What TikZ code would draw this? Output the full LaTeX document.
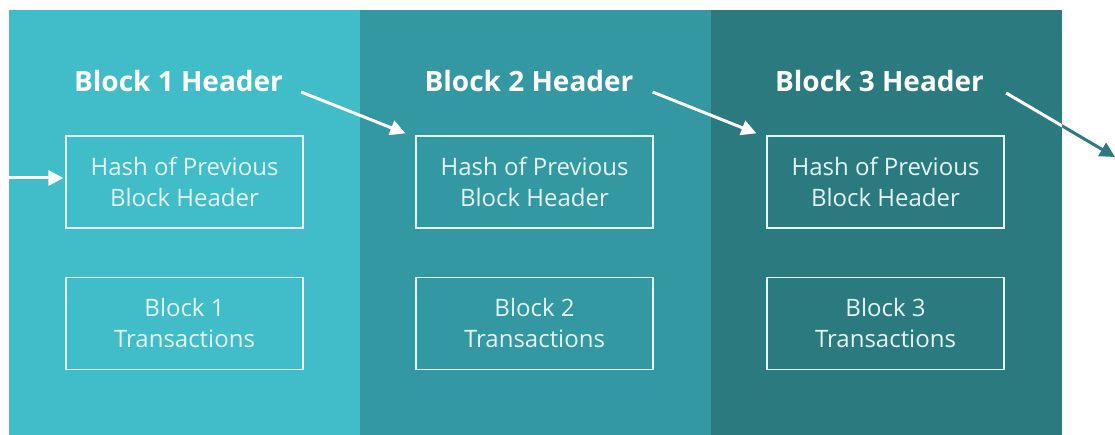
\documentclass[tikz,border=0pt]{standalone}
\usepackage{fontspec}
\setmainfont{Open Sans}
\usepackage{xcolor}
\usetikzlibrary{positioning,arrows.meta}

\definecolor{tealA}{RGB}{64,189,200}
\definecolor{tealB}{RGB}{51,152,162}
\definecolor{tealC}{RGB}{42,122,128}
\definecolor{paleText}{RGB}{228,246,247}

\begin{document}
\begin{tikzpicture}[x=1pt,y=-1pt,>={Triangle[length=15pt,width=15pt]},node distance=48pt]
          \tikzstyle{panel}=[draw=none,inner sep=0pt,minimum width=351pt,minimum height=425pt]
          \tikzstyle{head}=[text=white,font=\fontsize{28}{33}\selectfont\bfseries,inner sep=0pt]
          \tikzstyle{box}=[draw=paleText,line width=1.3pt,text=paleText,align=center,
                           minimum width=237pt,minimum height=92pt,inner sep=0pt,
                           font=\fontsize{24}{31}\selectfont]
          \tikzstyle{link}=[->,draw=white,line width=3pt]
          \useasboundingbox (0,0) rectangle (1115,435);
          % the three coloured columns
          \node[panel,fill=tealA] (P1) at (184,222.5) {};
          \node[panel,fill=tealB] (P2) at (535.5,222.5) {};
          \node[panel,fill=tealC] (P3) at (886.5,222.5) {};
          % headers
          \node[head] (H1) at (178.5,81) {Block 1 Header};
          \node[head] (H2) at (529,81)   {Block 2 Header};
          \node[head] (H3) at (879.5,81) {Block 3 Header};
          % boxes
          \node[box] (Hash1) at (184.5,182) {Hash of Previous\\Block Header};
          \node[box] (Hash2) at (534.5,182) {Hash of Previous\\Block Header};
          \node[box] (Hash3) at (885.5,182) {Hash of Previous\\Block Header};
          \node[box] (Tx1) [below=of Hash1] {Block 1\\Transactions};
          \node[box] (Tx2) [below=of Hash2] {Block 2\\Transactions};
          \node[box] (Tx3) [below=of Hash3] {Block 3\\Transactions};
          \coordinate (In)  at (0,178);
          \coordinate (Out) at (1115,157);
          % links
          \draw[link,shorten >=2pt] (In) -- (In -| Hash1.west);
          \draw[link] ([xshift=18pt,yshift=-11pt]H1.east) -- ([xshift=-10pt,yshift=2pt]Hash2.north west);
          \draw[link] ([xshift=19pt,yshift=-11pt]H2.east) -- ([xshift=-10pt,yshift=2pt]Hash3.north west);
          \draw[link,draw=tealC] ([xshift=22pt,yshift=-12pt]H3.east) -- (Out);
          \begin{scope}
            \clip (P3.north west) rectangle (P3.south east);
            \draw[line width=3pt,white] ([xshift=22pt,yshift=-12pt]H3.east) -- (Out);
          \end{scope}
\end{tikzpicture}
\end{document}
